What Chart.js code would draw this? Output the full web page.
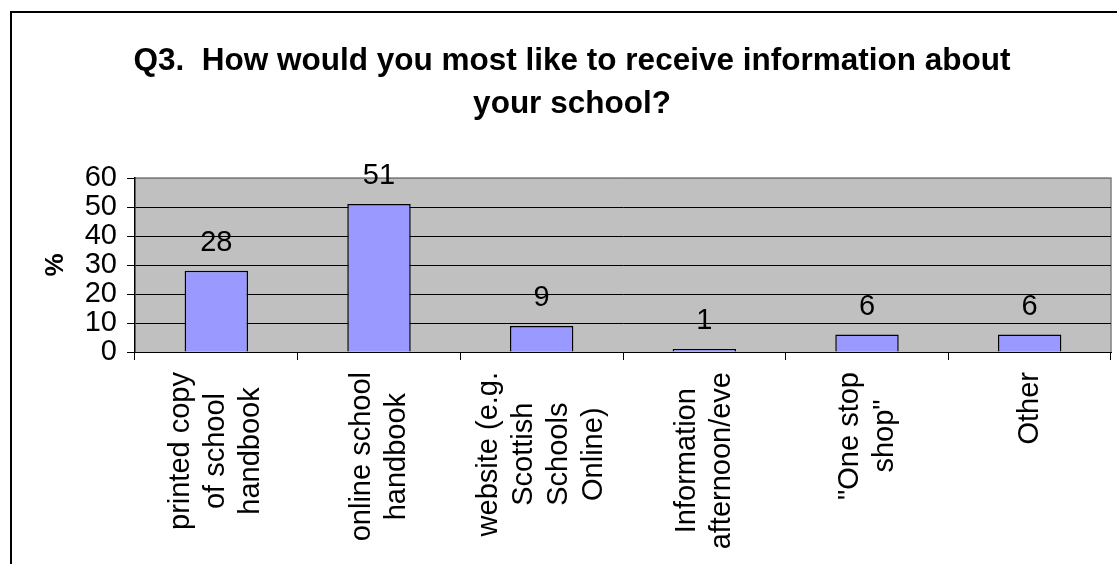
<!DOCTYPE html>
<html>
<head>
<meta charset="utf-8">
<script src="https://cdn.jsdelivr.net/npm/chart.js@4/dist/chart.umd.min.js"></script>
<style>
  html, body { margin: 0; padding: 0; background: #fff; }
  #wrap { width: 1117px; height: 564px; position: relative; }
</style>
</head>
<body>
<div id="wrap"><canvas id="c"></canvas></div>
<script>
const titleLines = ["Q3.  How would you most like to receive information about", "your school?"];
const categories = [
  ["printed copy", "of school", "handbook"],
  ["online school", "handbook"],
  ["website (e.g.", "Scottish", "Schools", "Online)"],
  ["Information", "afternoon/eve"],
  ["\"One stop", "shop\""],
  ["Other"]
];
const values = [28, 51, 9, 1, 6, 6];
const yMin = 0, yMax = 60, yStep = 10;
const yTitle = "%";

const FONT = "'Liberation Sans', Arial, sans-serif";
const TICK_SIZE = 29;

const framePlugin = {
  id: 'frame',
  beforeDraw(chart) {
    const ctx = chart.ctx, a = chart.chartArea;
    ctx.save();
    ctx.fillStyle = '#fff';
    ctx.fillRect(0, 0, chart.width, chart.height);
    ctx.strokeStyle = '#000';
    ctx.lineWidth = 2;
    ctx.strokeRect(11, 12, chart.width + 20, chart.height + 20);
    ctx.fillStyle = '#C0C0C0';
    ctx.fillRect(a.left, a.top, a.right - a.left, a.bottom - a.top);
    ctx.strokeStyle = '#808080';
    ctx.lineWidth = 1.5;
    ctx.beginPath();
    ctx.moveTo(a.left, a.top);
    ctx.lineTo(a.right, a.top);
    ctx.lineTo(a.right, a.bottom);
    ctx.stroke();
    // title
    ctx.font = 'bold 31.5px ' + FONT;
    ctx.fillStyle = '#000';
    ctx.textAlign = 'center';
    ctx.textBaseline = 'middle';
    titleLines.forEach((t, i) => ctx.fillText(t, 572, 61 + i * 43));
    ctx.restore();
  }
};

const labelPlugin = {
  id: 'valueLabels',
  afterDatasetsDraw(chart) {
    const ctx = chart.ctx;
    const meta = chart.getDatasetMeta(0);
    ctx.save();
    ctx.font = TICK_SIZE + 'px ' + FONT;
    ctx.fillStyle = '#000';
    ctx.textAlign = 'center';
    ctx.textBaseline = 'middle';
    meta.data.forEach((bar, i) => {
      ctx.fillText(String(values[i]), bar.x, bar.y - 28);
    });
    ctx.restore();
  },
  afterDraw(chart) {
    const ctx = chart.ctx;
    const xs = chart.scales.x;
    const top = chart.chartArea.bottom + 20;
    const lh = 35;
    ctx.save();
    ctx.font = TICK_SIZE + 'px ' + FONT;
    ctx.fillStyle = '#000';
    ctx.textAlign = 'center';
    ctx.textBaseline = 'middle';
    categories.forEach((lines, i) => {
      const cx = xs.getPixelForValue(i);
      const maxW = Math.max(...lines.map(l => ctx.measureText(l).width));
      const cy = top + maxW / 2;
      lines.forEach((line, j) => {
        const x = cx + (j - (lines.length - 1) / 2) * lh;
        ctx.save();
        ctx.translate(x, cy);
        ctx.rotate(-Math.PI / 2);
        ctx.fillText(line, 0, 0);
        ctx.restore();
      });
    });
    ctx.restore();
  }
};

new Chart(document.getElementById('c'), {
  type: 'bar',
  data: {
    labels: categories,
    datasets: [{
      data: values,
      backgroundColor: '#9999FF',
      borderColor: '#000',
      borderWidth: 1.5,
      barPercentage: 0.39,
      categoryPercentage: 1.0
    }]
  },
  options: {
    responsive: true,
    maintainAspectRatio: false,
    animation: false,
    devicePixelRatio: 1,
    layout: { padding: { left: 0, right: 6, top: 178, bottom: 0 } },
    plugins: {
      legend: { display: false },
      tooltip: { enabled: false },
      title: { display: false }
    },
    scales: {
      x: {
        offset: true,
        grid: { display: true, drawOnChartArea: false, drawTicks: true, tickLength: 8, color: '#000', offset: true },
        border: { display: true, color: '#000', width: 1 },
        ticks: { display: false },
        afterFit(scale) { scale.height = 212; }
      },
      y: {
        min: yMin, max: yMax,
        ticks: { stepSize: yStep, autoSkip: false, color: '#000', padding: 10, font: { family: FONT, size: TICK_SIZE } },
        grid: {
          color: ctx => (ctx.tick && ctx.tick.value === yMax) ? '#808080' : '#000',
          tickColor: '#000',
          tickLength: 8,
          lineWidth: 1
        },
        border: { display: true, color: '#000', width: 1.5 },
        title: {
          display: true, text: yTitle, color: '#000',
          font: { family: FONT, size: 26, weight: 'bold', lineHeight: 1.2 },
          padding: { top: 40, bottom: 0 }
        },
        afterFit(scale) { scale.width = 135; }
      }
    }
  },
  plugins: [framePlugin, labelPlugin]
});
</script>
</body>
</html>
